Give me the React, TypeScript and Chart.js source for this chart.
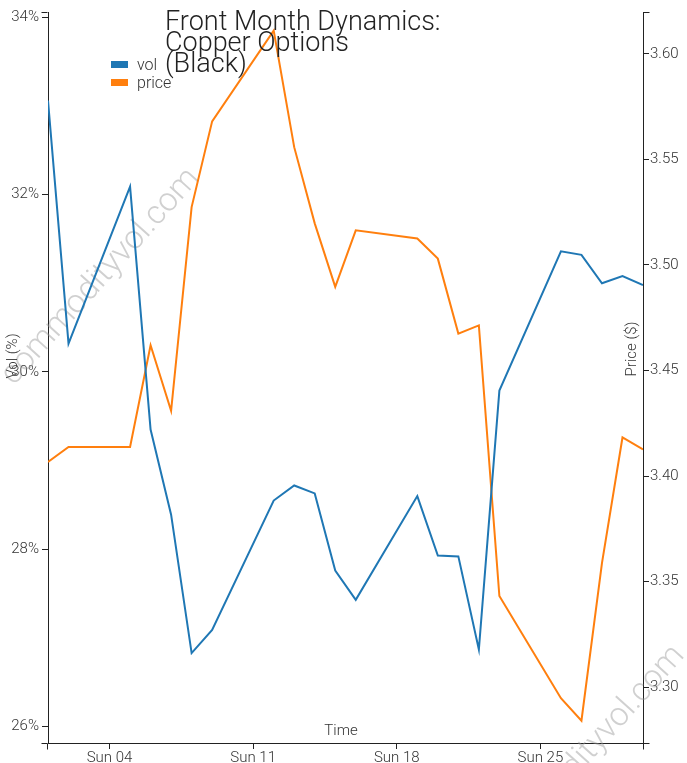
import React, { useEffect, useRef } from "react";
import { Chart, registerables } from "chart.js";

Chart.register(...registerables);

// Days of the month (trading days)
const days = [1, 2, 5, 6, 7, 8, 9, 12, 13, 14, 15, 16, 19, 20, 21, 22, 23, 26, 27, 28, 29, 30];
// Implied vol (%)
const volPct = [33.06, 30.32, 32.09, 29.35, 28.39, 26.83, 27.09, 28.55, 28.72, 28.63, 27.76, 27.43, 28.6, 27.93, 27.92, 26.87, 29.79, 31.36, 31.32, 31.0, 31.08, 30.98];
// Front month price ($)
const price = [3.4067, 3.4138, 3.4138, 3.462, 3.4309, 3.5274, 3.568, 3.611, 3.5558, 3.5197, 3.4896, 3.5164, 3.5125, 3.503, 3.4675, 3.4714, 3.3432, 3.2948, 3.2842, 3.3588, 3.4183, 3.4126];

const xTickDays = [4, 11, 18, 25];
const xTickLabels = ["Sun 04", "Sun 11", "Sun 18", "Sun 25"];
const volTicks = [26, 28, 30, 32, 34];
const priceTicks = [3.3, 3.35, 3.4, 3.45, 3.5, 3.55, 3.6];

const titleLines = ["Front Month Dynamics:", "Copper Options", "(Black)"];
const seriesNames = ["vol", "price"];
const seriesColors = ["#1f77b4", "#ff7f0e"];
const watermark = "commodityvol.com";

const AXIS = "#222";
const TEXT = "#333";
const FONT = "Roboto";

const overlay = {
  id: "overlay",
  beforeDatasetsDraw(chart: any) {
    const ctx = chart.ctx;
    ctx.save();
    ctx.fillStyle = "rgba(150,150,150,0.45)";
    ctx.font = `300 33px ${FONT}`;
    ctx.textAlign = "center";
    ctx.textBaseline = "middle";
    const spots = [
      [101, 277],
      [586, 754],
    ];
    for (const [cx, cy] of spots) {
      ctx.save();
      ctx.translate(cx, cy);
      ctx.rotate((-48 * Math.PI) / 180);
      ctx.fillText(watermark, 0, 0);
      ctx.restore();
    }
    ctx.restore();
  },
  afterDraw(chart: any) {
    const ctx = chart.ctx;
    const a = chart.chartArea;
    ctx.save();
    // outer ticks (d3 style)
    ctx.strokeStyle = AXIS;
    ctx.lineWidth = 1;
    ctx.beginPath();
    const L = Math.round(a.left) - 0.5;
    const R = Math.round(a.right) + 0.5;
    const T = Math.round(a.top) + 0.5;
    const B = Math.round(a.bottom) + 0.5;
    ctx.moveTo(L - 6, T); ctx.lineTo(L, T);
    ctx.moveTo(L - 6, B); ctx.lineTo(L, B);
    ctx.moveTo(R, T); ctx.lineTo(R + 6, T);
    ctx.moveTo(R, B); ctx.lineTo(R + 6, B);
    ctx.moveTo(L, B); ctx.lineTo(L, B + 6);
    ctx.moveTo(R, B); ctx.lineTo(R, B + 6);
    ctx.stroke();

    // axis titles
    ctx.fillStyle = TEXT;
    ctx.font = `300 15px ${FONT}`;
    ctx.textAlign = "center";
    ctx.textBaseline = "middle";
    ctx.save();
    ctx.translate(13, 356);
    ctx.rotate(-Math.PI / 2);
    ctx.fillText("Vol (%)", 0, 0);
    ctx.restore();
    ctx.save();
    ctx.translate(632.5, 349);
    ctx.rotate(-Math.PI / 2);
    ctx.fillText("Price ($)", 0, 0);
    ctx.restore();
    ctx.fillText("Time", 341, 731);

    // legend
    ctx.textAlign = "left";
    ctx.textBaseline = "alphabetic";
    ctx.font = `300 16px ${FONT}`;
    const legendY = [61, 79];
    seriesNames.forEach((n, i) => {
      ctx.fillStyle = seriesColors[i];
      ctx.fillRect(111, legendY[i], 17, 7);
      ctx.fillStyle = TEXT;
      ctx.fillText(n, 137, legendY[i] + 8.5);
    });

    // title
    ctx.fillStyle = "#222";
    ctx.font = `300 27px ${FONT}`;
    const baselines = [29.5, 50.5, 71.5];
    titleLines.forEach((t, i) => ctx.fillText(t, 165, baselines[i]));
    ctx.restore();
  },
};

export default function App() {
  const ref = useRef<HTMLCanvasElement>(null);

  useEffect(() => {
    if (!ref.current) return;
    const tickFont = { family: FONT, size: 15, weight: 300 as any };
    const chart = new Chart(ref.current, {
      type: "line",
      data: {
        datasets: [
          {
            label: seriesNames[0],
            data: days.map((d, i) => ({ x: d, y: volPct[i] })),
            borderColor: seriesColors[0],
            backgroundColor: seriesColors[0],
            borderWidth: 2,
            pointRadius: 0,
            tension: 0,
            yAxisID: "y",
          },
          {
            label: seriesNames[1],
            data: days.map((d, i) => ({ x: d, y: price[i] })),
            borderColor: seriesColors[1],
            backgroundColor: seriesColors[1],
            borderWidth: 2,
            pointRadius: 0,
            tension: 0,
            yAxisID: "y1",
          },
        ],
      },
      plugins: [overlay],
      options: {
        animation: false,
        responsive: false,
        devicePixelRatio: 1,
        layout: { padding: { top: 11.5, left: 0, right: 0, bottom: 0 } },
        plugins: { legend: { display: false }, tooltip: { enabled: false }, title: { display: false } },
        scales: {
          x: {
            type: "linear",
            position: "bottom",
            min: 1,
            max: 30,
            grid: { drawOnChartArea: false, drawTicks: true, tickLength: 6, color: AXIS },
            border: { display: true, color: AXIS, width: 1 },
            ticks: {
              font: tickFont,
              color: TEXT,
              padding: 0,
              maxRotation: 0,
              autoSkip: false,
              callback: (v: any) => {
                const i = xTickDays.indexOf(Number(v));
                return i >= 0 ? xTickLabels[i] : "";
              },
            },
            afterBuildTicks: (s: any) => {
              s.ticks = xTickDays.map((v) => ({ value: v }));
            },
            afterFit: (s: any) => {
              s.height = 20;
            },
          },
          y: {
            type: "linear",
            position: "left",
            min: 25.816,
            max: 34.0586,
            grid: { drawOnChartArea: false, drawTicks: true, tickLength: 6, color: AXIS },
            border: { display: true, color: AXIS, width: 1 },
            ticks: {
              font: tickFont,
              color: TEXT,
              padding: 3,
              callback: (v: any) => `${Math.round(Number(v))}%`,
            },
            afterBuildTicks: (s: any) => {
              s.ticks = volTicks.map((v) => ({ value: v }));
            },
            afterFit: (s: any) => {
              s.width = 48;
            },
          },
          y1: {
            type: "linear",
            position: "right",
            min: 3.2736,
            max: 3.6198,
            grid: { drawOnChartArea: false, drawTicks: true, tickLength: 6, color: AXIS },
            border: { display: true, color: AXIS, width: 1 },
            ticks: {
              font: tickFont,
              color: TEXT,
              padding: 1,
              callback: (v: any) => Number(v).toFixed(2),
            },
            afterBuildTicks: (s: any) => {
              s.ticks = priceTicks.map((v) => ({ value: v }));
            },
            afterFit: (s: any) => {
              s.width = 44;
            },
          },
        },
      },
    });
    return () => chart.destroy();
  }, []);

  return (
    <div style={{ position: "fixed", left: 0, top: 0, width: 687, height: 763, background: "#fff" }}>
      <canvas ref={ref} width={687} height={763} style={{ display: "block", width: 687, height: 763 }} />
    </div>
  );
}
